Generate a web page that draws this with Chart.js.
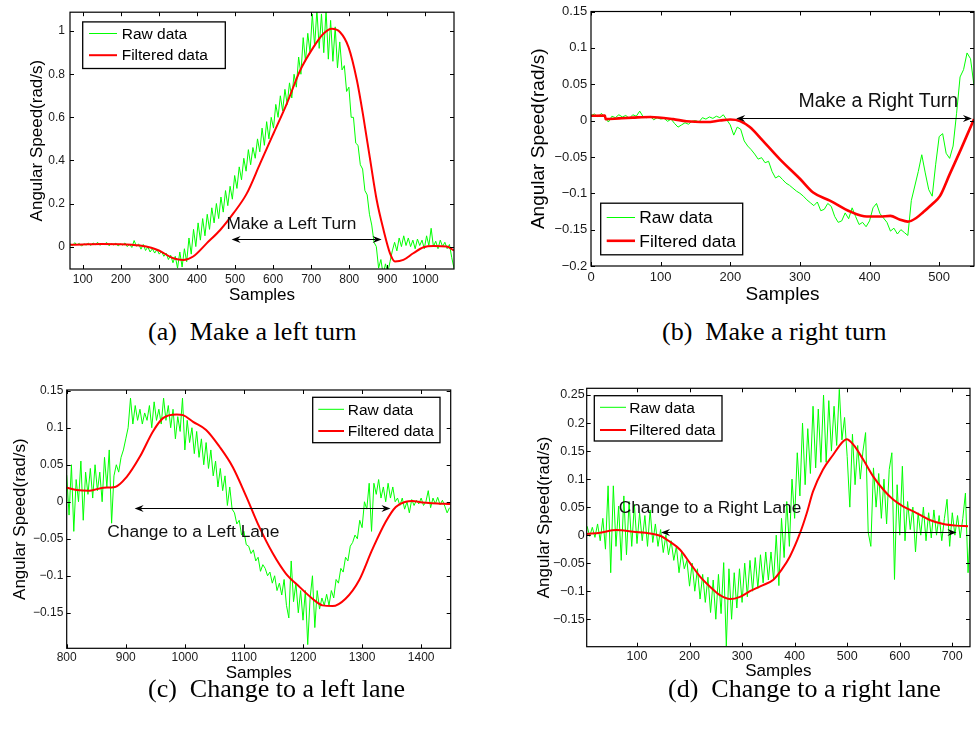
<!DOCTYPE html>
<html>
<head>
<meta charset="utf-8">
<script src="https://cdn.jsdelivr.net/npm/chart.js@4.4.1/dist/chart.umd.min.js"></script>
<style>
  html, body { margin: 0; padding: 0; background: #fff; }
  body { width: 980px; height: 734px; position: relative; overflow: hidden; }
  canvas { position: absolute; }
  .cap { position: absolute; font-family: 'Liberation Serif', 'Times New Roman', serif; font-size: 26px; line-height: 26px; white-space: pre; color: #000; }
</style>
</head>
<body>
<canvas id="panelA" width="490" height="312" style="left:0px;top:0px"></canvas>
<canvas id="panelB" width="490" height="312" style="left:490px;top:0px"></canvas>
<canvas id="panelC" width="490" height="320" style="left:0px;top:365px"></canvas>
<canvas id="panelD" width="490" height="320" style="left:490px;top:365px"></canvas>
<div class="cap" style="left:148px;top:319px">(a)  Make a left turn</div>
<div class="cap" style="left:662px;top:319px">(b)  Make a right turn</div>
<div class="cap" style="left:148px;top:676px">(c)  Change to a left lane</div>
<div class="cap" style="left:668px;top:676px">(d)  Change to a right lane</div>
<script>
// ---------- (a) left turn ----------
const rawAFirst = 67, rawAStep = 6;
const rawA = [
  0.012, 0.004, 0.018, 0.008, 0.015, 0.002, 0.013, 0.007, 0.016, 0.005,
  0.017, 0.009, 0.02, 0.006, 0.014, 0.011, 0.019, 0.004, 0.013, 0.008,
  0.016, 0.003, 0.012, 0.007, 0.017, 0.0, 0.011, -0.004, 0.028, 0.002,
  0.012, -0.012, 0.01, -0.018, -0.002, -0.025, -0.01, -0.03, -0.014, -0.035,
  -0.022, -0.045, -0.03, -0.06, -0.04, -0.075, -0.045, -0.1, -0.025, -0.095,
  -0.01, -0.07, 0.04, -0.035, 0.08, 0.0, 0.11, 0.03, 0.13, 0.05,
  0.15, 0.08, 0.18, 0.11, 0.2, 0.13, 0.23, 0.16, 0.26, 0.19,
  0.28, 0.22, 0.33, 0.27, 0.37, 0.31, 0.41, 0.35, 0.45, 0.38,
  0.46, 0.41, 0.5, 0.44, 0.55, 0.47, 0.58, 0.5, 0.6, 0.55,
  0.66, 0.6, 0.7, 0.63, 0.73, 0.66, 0.76, 0.69, 0.8, 0.74,
  0.88, 0.8, 0.97, 0.86, 0.99, 0.9, 1.08, 0.93, 1.1, 0.92,
  1.08, 0.9, 1.1, 0.87, 1.05, 0.86, 1.02, 0.83, 0.95, 0.82,
  0.84, 0.72, 0.74, 0.6, 0.6, 0.48, 0.47, 0.38, 0.36, 0.26,
  0.24, 0.15, 0.1, 0.02, 0.0, -0.1, -0.06, -0.13, -0.08, -0.12,
  -0.07, -0.02, 0.02, -0.02, 0.04, 0.0, 0.05, 0.005, 0.04, 0.0,
  0.03, -0.01, 0.035, 0.005, 0.03, -0.01, 0.05, 0.005, 0.085, 0.0,
  0.025, -0.01, 0.03, 0.0, 0.02, -0.01, 0.01, -0.05, -0.1
];
const filtASamples = [67, 100, 150, 200, 250, 280, 300, 338, 364, 390, 426, 461, 496, 531, 566, 601, 636, 671,
  706, 732, 754, 776, 798, 820, 837, 855, 872, 890, 907, 920, 942, 968, 995, 1021, 1056, 1075];
const filtA = [0.008, 0.010, 0.012, 0.011, 0.005, -0.005, -0.018, -0.054, -0.062, -0.046, 0.016, 0.077, 0.155,
  0.247, 0.386, 0.525, 0.664, 0.818, 0.926, 0.988, 1.011, 0.995, 0.926, 0.772, 0.602, 0.401, 0.216, 0.077,
  -0.031, -0.069, -0.062, -0.031, -0.003, 0.003, 0.0, -0.018];
const ticksAX = [100, 200, 300, 400, 500, 600, 700, 800, 900, 1000];
const ticksAY = [0, 0.2, 0.4, 0.6, 0.8, 1];

// ---------- (b) right turn ----------
const rawBFirst = 0, rawBStep = 5;
const rawB = [
  0.007, 0.009, 0.005, 0.010, 0.004, -0.002, 0.006, 0.004, 0.008, 0.005,
  0.007, 0.003, 0.008, 0.006, 0.013, 0.005, 0.004, 0.006, 0.001, 0.004,
  0.002, 0.003, -0.001, 0.002, -0.004, -0.009, -0.006, -0.003, -0.005, -0.001,
  0.0, -0.002, 0.004, 0.002, 0.005, 0.003, 0.006, 0.004, 0.008, 0.001,
  -0.006, -0.02, -0.009, -0.012, -0.028, -0.035, -0.04, -0.046, -0.053, -0.051,
  -0.058, -0.056, -0.07, -0.079, -0.076, -0.081, -0.086, -0.089, -0.093, -0.097,
  -0.1, -0.104, -0.109, -0.113, -0.117, -0.112, -0.124, -0.122, -0.114, -0.118,
  -0.132, -0.14, -0.138, -0.127, -0.135, -0.12, -0.132, -0.143, -0.14, -0.146,
  -0.138, -0.12, -0.114, -0.128, -0.134, -0.14, -0.152, -0.148, -0.156, -0.15,
  -0.154, -0.158, -0.11, -0.09, -0.07, -0.047, -0.072, -0.095, -0.104, -0.06,
  -0.022, -0.018, -0.045, -0.052, -0.035, 0.01, 0.06, 0.07, 0.093, 0.085,
  0.048
];
const filtBSamples = [0, 20, 21, 40, 60, 85, 118, 137, 166, 185, 200, 214, 228, 247, 271, 300, 319, 343, 372,
  396, 415, 430, 443, 455, 467, 477, 491, 501, 515, 531, 540, 550];
const filtB = [0.0066, 0.0068, 0.002, 0.003, 0.004, 0.005, 0.002, -0.001, -0.002, 0.0, 0.0015, -0.0006, -0.009,
  -0.028, -0.053, -0.08, -0.099, -0.11, -0.125, -0.132, -0.132, -0.131, -0.136, -0.139, -0.134, -0.126, -0.114,
  -0.104, -0.074, -0.04, -0.02, 0.002];
const ticksBX = [0, 100, 200, 300, 400, 500];
const ticksBY = [-0.2, -0.15, -0.1, -0.05, 0, 0.05, 0.1, 0.15];

// ---------- (c) change to a left lane ----------
const rawCFirst = 800, rawCStep = 4;
const rawC = [
  0.036, -0.018, 0.05, -0.04, 0.03, 0.0, 0.055, -0.025, 0.04, 0.01,
  0.045, 0.005, 0.05, 0.015, 0.04, 0.0, 0.06, 0.02, 0.07, -0.029,
  0.035, 0.05, 0.04, 0.06, 0.07, 0.085, 0.1, 0.14, 0.105, 0.13,
  0.11, 0.125, 0.105, 0.12, 0.11, 0.13, 0.1, 0.135, 0.11, 0.125,
  0.105, 0.14, 0.11, 0.13, 0.1, 0.125, 0.085, 0.115, 0.095, 0.14,
  0.07, 0.11, 0.08, 0.1, 0.065, 0.095, 0.06, 0.085, 0.05, 0.08,
  0.045, 0.07, 0.035, 0.055, 0.02, 0.045, 0.015, 0.035, -0.005, 0.02,
  -0.01, -0.015, -0.03, -0.025, -0.045, -0.04, -0.058, -0.06, -0.07, -0.065,
  -0.08, -0.075, -0.094, -0.085, -0.09, -0.1, -0.095, -0.11, -0.1, -0.12,
  -0.11, -0.126, -0.105, -0.14, -0.157, -0.08, -0.135, -0.11, -0.15, -0.12,
  -0.16, -0.12, -0.193, -0.13, -0.1, -0.17, -0.12, -0.145, -0.13, -0.14,
  -0.125, -0.14, -0.12, -0.13, -0.105, -0.11, -0.09, -0.095, -0.075, -0.08,
  -0.06, -0.055, -0.045, -0.05, -0.025, -0.035, 0.0, -0.01, 0.025, -0.04,
  0.025, 0.01, 0.03, 0.005, 0.02, 0.0, 0.025, 0.005, 0.02, 0.0,
  0.005, -0.005, 0.005, -0.01, 0.0, -0.015, 0.003, -0.005, 0.002, -0.003,
  0.005, -0.005, 0.0, 0.015, -0.008, 0.005, -0.003, 0.006, -0.004, 0.002,
  -0.006, -0.015, -0.008
];
const filtCSamples = [800, 817, 839, 862, 882, 901, 924, 946, 963, 986, 997, 1014, 1036, 1059, 1081, 1104, 1126,
  1149, 1171, 1194, 1216, 1233, 1250, 1272, 1295, 1317, 1340, 1357, 1374, 1385, 1402, 1419, 1450];
const filtC = [0.019, 0.016, 0.015, 0.019, 0.02, 0.033, 0.061, 0.095, 0.113, 0.118, 0.117, 0.108, 0.097, 0.074,
  0.047, 0.007, -0.034, -0.07, -0.097, -0.115, -0.131, -0.14, -0.141, -0.131, -0.106, -0.065, -0.027, -0.007,
  0.0, 0.001, -0.001, -0.002, -0.003];
const ticksCX = [800, 900, 1000, 1100, 1200, 1300, 1400];
const ticksCY = [-0.15, -0.1, -0.05, 0, 0.05, 0.1, 0.15];

// ---------- (d) change to a right lane ----------
const rawDFirst = 5, rawDStep = 5;
const rawD = [
  0.016, -0.002, 0.014, -0.004, 0.02, -0.01, 0.03, -0.025, 0.088, -0.067,
  0.088, -0.02, 0.052, -0.045, 0.07, -0.035, 0.06, -0.02, 0.055, -0.015,
  0.04, -0.01, 0.035, -0.02, 0.045, -0.013, 0.02, -0.02, 0.01, -0.031,
  0.0, -0.035, -0.01, -0.045, -0.02, -0.067, -0.03, -0.06, -0.045, -0.091,
  -0.05, -0.1, -0.06, -0.114, -0.07, -0.12, -0.075, -0.138, -0.08, -0.15,
  -0.07, -0.14, -0.049, -0.198, -0.06, -0.15, -0.067, -0.13, -0.06, -0.12,
  -0.05, -0.11, -0.045, -0.1, -0.04, -0.095, -0.035, -0.085, -0.03, -0.08,
  -0.03, -0.08, 0.0, -0.09, 0.03, -0.04, 0.06, -0.02, 0.1, 0.03,
  0.147, 0.07, 0.2, 0.09, 0.19, 0.11, 0.23, 0.12, 0.225, 0.13,
  0.25, 0.13, 0.24, 0.15, 0.23, 0.16, 0.26, 0.17, 0.21, 0.14,
  0.05, 0.18, 0.09, 0.16, 0.1, 0.15, 0.183, 0.005, -0.02, 0.12,
  0.05, 0.11, 0.03, 0.1, 0.02, 0.117, 0.147, -0.079, 0.09, 0.0,
  0.123, -0.01, 0.06, 0.01, 0.05, -0.03, 0.04, 0.0, 0.05, -0.01,
  0.04, -0.005, 0.045, 0.0, 0.035, -0.01, 0.03, 0.064, -0.02, 0.04,
  0.0, 0.035, -0.005, 0.03, 0.075, -0.067, 0.02
];
const filtDSamples = [5, 30, 61, 93, 125, 144, 163, 182, 201, 220, 239, 258, 277, 296, 315, 340, 359, 375, 391,
  410, 423, 435, 454, 473, 492, 499, 512, 531, 550, 569, 588, 607, 633, 657, 683, 708, 730];
const filtD = [0.002, 0.0045, 0.009, 0.006, 0.003, -0.001, -0.012, -0.026, -0.05, -0.074, -0.092, -0.107, -0.114,
  -0.11, -0.1, -0.089, -0.08, -0.062, -0.038, 0.003, 0.039, 0.078, 0.117, 0.143, 0.167, 0.171, 0.161, 0.134,
  0.104, 0.081, 0.063, 0.051, 0.039, 0.027, 0.02, 0.017, 0.016];
const ticksDX = [100, 200, 300, 400, 500, 600, 700];
const ticksDY = [-0.15, -0.1, -0.05, 0, 0.05, 0.1, 0.15, 0.2, 0.25];

// ---------- drawing ----------
const FONT = "'Liberation Sans', Arial, Helvetica, sans-serif";
Chart.defaults.font.family = FONT;

function evenSeries(first, step, values) {
  return values.map((v, i) => ({ x: first + i * step, y: v }));
}
function pairSeries(xs, ys) {
  return xs.map((x, i) => ({ x: x, y: ys[i] }));
}
function fmt(v) {
  const r = Math.round(v * 1000) / 1000;
  return r < 0 ? '\u2212' + String(-r) : String(r);
}
function arrowHead(ctx, x, y, dir) {
  ctx.beginPath();
  ctx.moveTo(x, y);
  ctx.lineTo(x - dir * 9, y - 3.5);
  ctx.lineTo(x - dir * 6, y);
  ctx.lineTo(x - dir * 9, y + 3.5);
  ctx.closePath();
  ctx.fill();
}

// MATLAB-style axes: boxed plot area, inward ticks on every side, arrow note and legend
const matlabAxes = {
  id: 'matlabAxes',
  afterDatasetsDraw(chart, args, o) {
    const { ctx, chartArea: a } = chart;
    const xs = chart.scales.x, ys = chart.scales.y;
    ctx.save();

    const x1 = xs.getPixelForValue(o.arrow.from), x2 = xs.getPixelForValue(o.arrow.to);
    const ay = Math.round(ys.getPixelForValue(o.arrow.y)) + 0.5;
    ctx.strokeStyle = '#000';
    ctx.fillStyle = '#000';
    ctx.lineWidth = 1;
    ctx.beginPath();
    ctx.moveTo(x1 + 6, ay);
    ctx.lineTo(x2 - 6, ay);
    ctx.stroke();
    arrowHead(ctx, x1, ay, -1);
    arrowHead(ctx, x2, ay, 1);

    ctx.font = o.note.size + 'px ' + FONT;
    ctx.textAlign = 'center';
    ctx.textBaseline = 'alphabetic';
    ctx.fillStyle = '#111';
    ctx.fillText(o.note.text, xs.getPixelForValue(o.note.x), ys.getPixelForValue(o.note.y));

    ctx.strokeStyle = '#000';
    ctx.lineWidth = 1.2;
    ctx.strokeRect(a.left, a.top, a.width, a.height);
    ctx.lineWidth = 1;
    ctx.beginPath();
    const tl = 4;
    xs.ticks.forEach(t => {
      const p = Math.round(xs.getPixelForValue(t.value)) + 0.5;
      ctx.moveTo(p, a.bottom); ctx.lineTo(p, a.bottom - tl);
      ctx.moveTo(p, a.top); ctx.lineTo(p, a.top + tl);
    });
    ys.ticks.forEach(t => {
      const p = Math.round(ys.getPixelForValue(t.value)) + 0.5;
      ctx.moveTo(a.left, p); ctx.lineTo(a.left + tl, p);
      ctx.moveTo(a.right, p); ctx.lineTo(a.right - tl, p);
    });
    ctx.stroke();

    const lg = o.legend;
    const bx = a.left + lg.dx, by = a.top + lg.dy;
    ctx.fillStyle = '#fff';
    ctx.fillRect(bx, by, lg.w, lg.h);
    ctx.lineWidth = 1.3;
    ctx.strokeStyle = '#000';
    ctx.strokeRect(bx, by, lg.w, lg.h);
    ctx.font = lg.size + 'px ' + FONT;
    ctx.textAlign = 'left';
    ctx.textBaseline = 'middle';
    chart.data.datasets.forEach((ds, i) => {
      const ry = by + lg.rows[i];
      ctx.strokeStyle = ds.borderColor;
      ctx.lineWidth = ds.borderWidth;
      ctx.beginPath();
      ctx.moveTo(bx + lg.line[0], ry);
      ctx.lineTo(bx + lg.line[1], ry);
      ctx.stroke();
      ctx.fillStyle = '#000';
      ctx.fillText(ds.label, bx + lg.text, ry + 1);
    });
    ctx.restore();
  }
};

function panel(id, p) {
  return new Chart(document.getElementById(id), {
    type: 'line',
    data: {
      datasets: [
        { label: 'Raw data', data: p.raw, borderColor: '#00ff00', borderWidth: 1, pointRadius: 0, order: 1, clip: 0 },
        { label: 'Filtered data', data: p.filt, borderColor: '#ff0000', borderWidth: p.fw, pointRadius: 0, order: 0,
          cubicInterpolationMode: 'monotone', clip: 0 }
      ]
    },
    options: {
      responsive: false,
      animation: false,
      devicePixelRatio: 1,
      layout: { padding: p.pad },
      plugins: {
        legend: { display: false },
        tooltip: { enabled: false },
        matlabAxes: { arrow: p.arrow, note: p.note, legend: p.legend }
      },
      scales: {
        x: {
          type: 'linear', min: p.xr[0], max: p.xr[1],
          grid: { display: false, drawTicks: false, tickLength: 0 }, border: { display: false },
          afterBuildTicks: s => { s.ticks = p.xt.map(v => ({ value: v })); },
          afterFit: s => { s.height = p.xH; },
          ticks: { font: { size: p.tick }, color: '#1a1a1a', padding: p.xPad, maxRotation: 0, autoSkip: false,
            callback: v => fmt(v) },
          title: { display: true, text: 'Samples', font: { size: p.title }, color: '#000', padding: 0 }
        },
        y: {
          type: 'linear', min: p.yr[0], max: p.yr[1],
          grid: { display: false, drawTicks: false, tickLength: 0 }, border: { display: false },
          afterBuildTicks: s => { s.ticks = p.yt.map(v => ({ value: v })); },
          afterFit: s => { s.width = p.yW; },
          ticks: { font: { size: p.tick }, color: '#1a1a1a', padding: p.yPad, autoSkip: false,
            callback: v => fmt(v) },
          title: { display: true, text: 'Angular Speed(rad/s)', font: { size: p.title }, color: '#000', padding: 0 }
        }
      }
    },
    plugins: [matlabAxes]
  });
}

panel('panelA', {
  raw: evenSeries(rawAFirst, rawAStep, rawA), filt: pairSeries(filtASamples, filtA), fw: 2,
  xr: [66.6, 1075], yr: [-0.104, 1.088], xt: ticksAX, yt: ticksAY,
  pad: { left: 27.1, top: 12, right: 36, bottom: 6.8 }, yW: 42.9, xH: 36.2,
  tick: 12, title: 17, xPad: 3, yPad: 5,
  arrow: { from: 491, to: 885, y: 0.036 },
  note: { text: 'Make a Left Turn', x: 648, y: 0.081, size: 17.3 },
  legend: { dx: 12.7, dy: 9.7, w: 142.6, h: 46.6, rows: [11.6, 33.3], line: [6.3, 34.3], text: 39, size: 15.5 }
});

panel('panelB', {
  raw: evenSeries(rawBFirst, rawBStep, rawB), filt: pairSeries(filtBSamples, filtB), fw: 2.6,
  xr: [0, 550], yr: [-0.2, 0.15], xt: ticksBX, yt: ticksBY,
  pad: { left: 36.9, top: 10, right: 6, bottom: 5.6 }, yW: 64.1, xH: 40.4,
  tick: 13, title: 19, xPad: 3.4, yPad: 3.7,
  arrow: { from: 208.5, to: 547, y: 0.0033 },
  note: { text: 'Make a Right Turn', x: 412.5, y: 0.0188, size: 19.5 },
  legend: { dx: 9.7, dy: 191.7, w: 142, h: 51.6, rows: [14.3, 37.6], line: [6, 34.3], text: 38.6, size: 17.4 }
});

panel('panelC', {
  raw: evenSeries(rawCFirst, rawCStep, rawC), filt: pairSeries(filtCSamples, filtC), fw: 2,
  xr: [800, 1450], yr: [-0.198, 0.151], xt: ticksCX, yt: ticksCY,
  pad: { left: 9.8, top: 25, right: 39.3, bottom: 1.5 }, yW: 56.9, xH: 35.2,
  tick: 12, title: 17, xPad: 2.5, yPad: 3.4,
  arrow: { from: 915, to: 1348, y: -0.0085 },
  note: { text: 'Change to a Left Lane', x: 1014.3, y: -0.0473, size: 17.4 },
  legend: { dx: 246, dy: 7.3, w: 127.3, h: 45.4, rows: [12, 33.7], line: [5.6, 31.3], text: 35, size: 15.5 }
});

panel('panelD', {
  raw: evenSeries(rawDFirst, rawDStep, rawD), filt: pairSeries(filtDSamples, filtD), fw: 2,
  xr: [4.3, 733.7], yr: [-0.199, 0.262], xt: ticksDX, yt: ticksDY,
  pad: { left: 44.1, top: 23.3, right: 10, bottom: 3.1 }, yW: 52.6, xH: 35.2,
  tick: 12.5, title: 17, xPad: 2.5, yPad: 2,
  arrow: { from: 145.7, to: 708, y: 0.006 },
  note: { text: 'Change to a Right Lane', x: 238.9, y: 0.0401, size: 17.3 },
  legend: { dx: 7.6, dy: 7.4, w: 127.7, h: 45.3, rows: [11.6, 34.3], line: [5.7, 31.7], text: 35, size: 15.5 }
});
</script>
</body>
</html>
